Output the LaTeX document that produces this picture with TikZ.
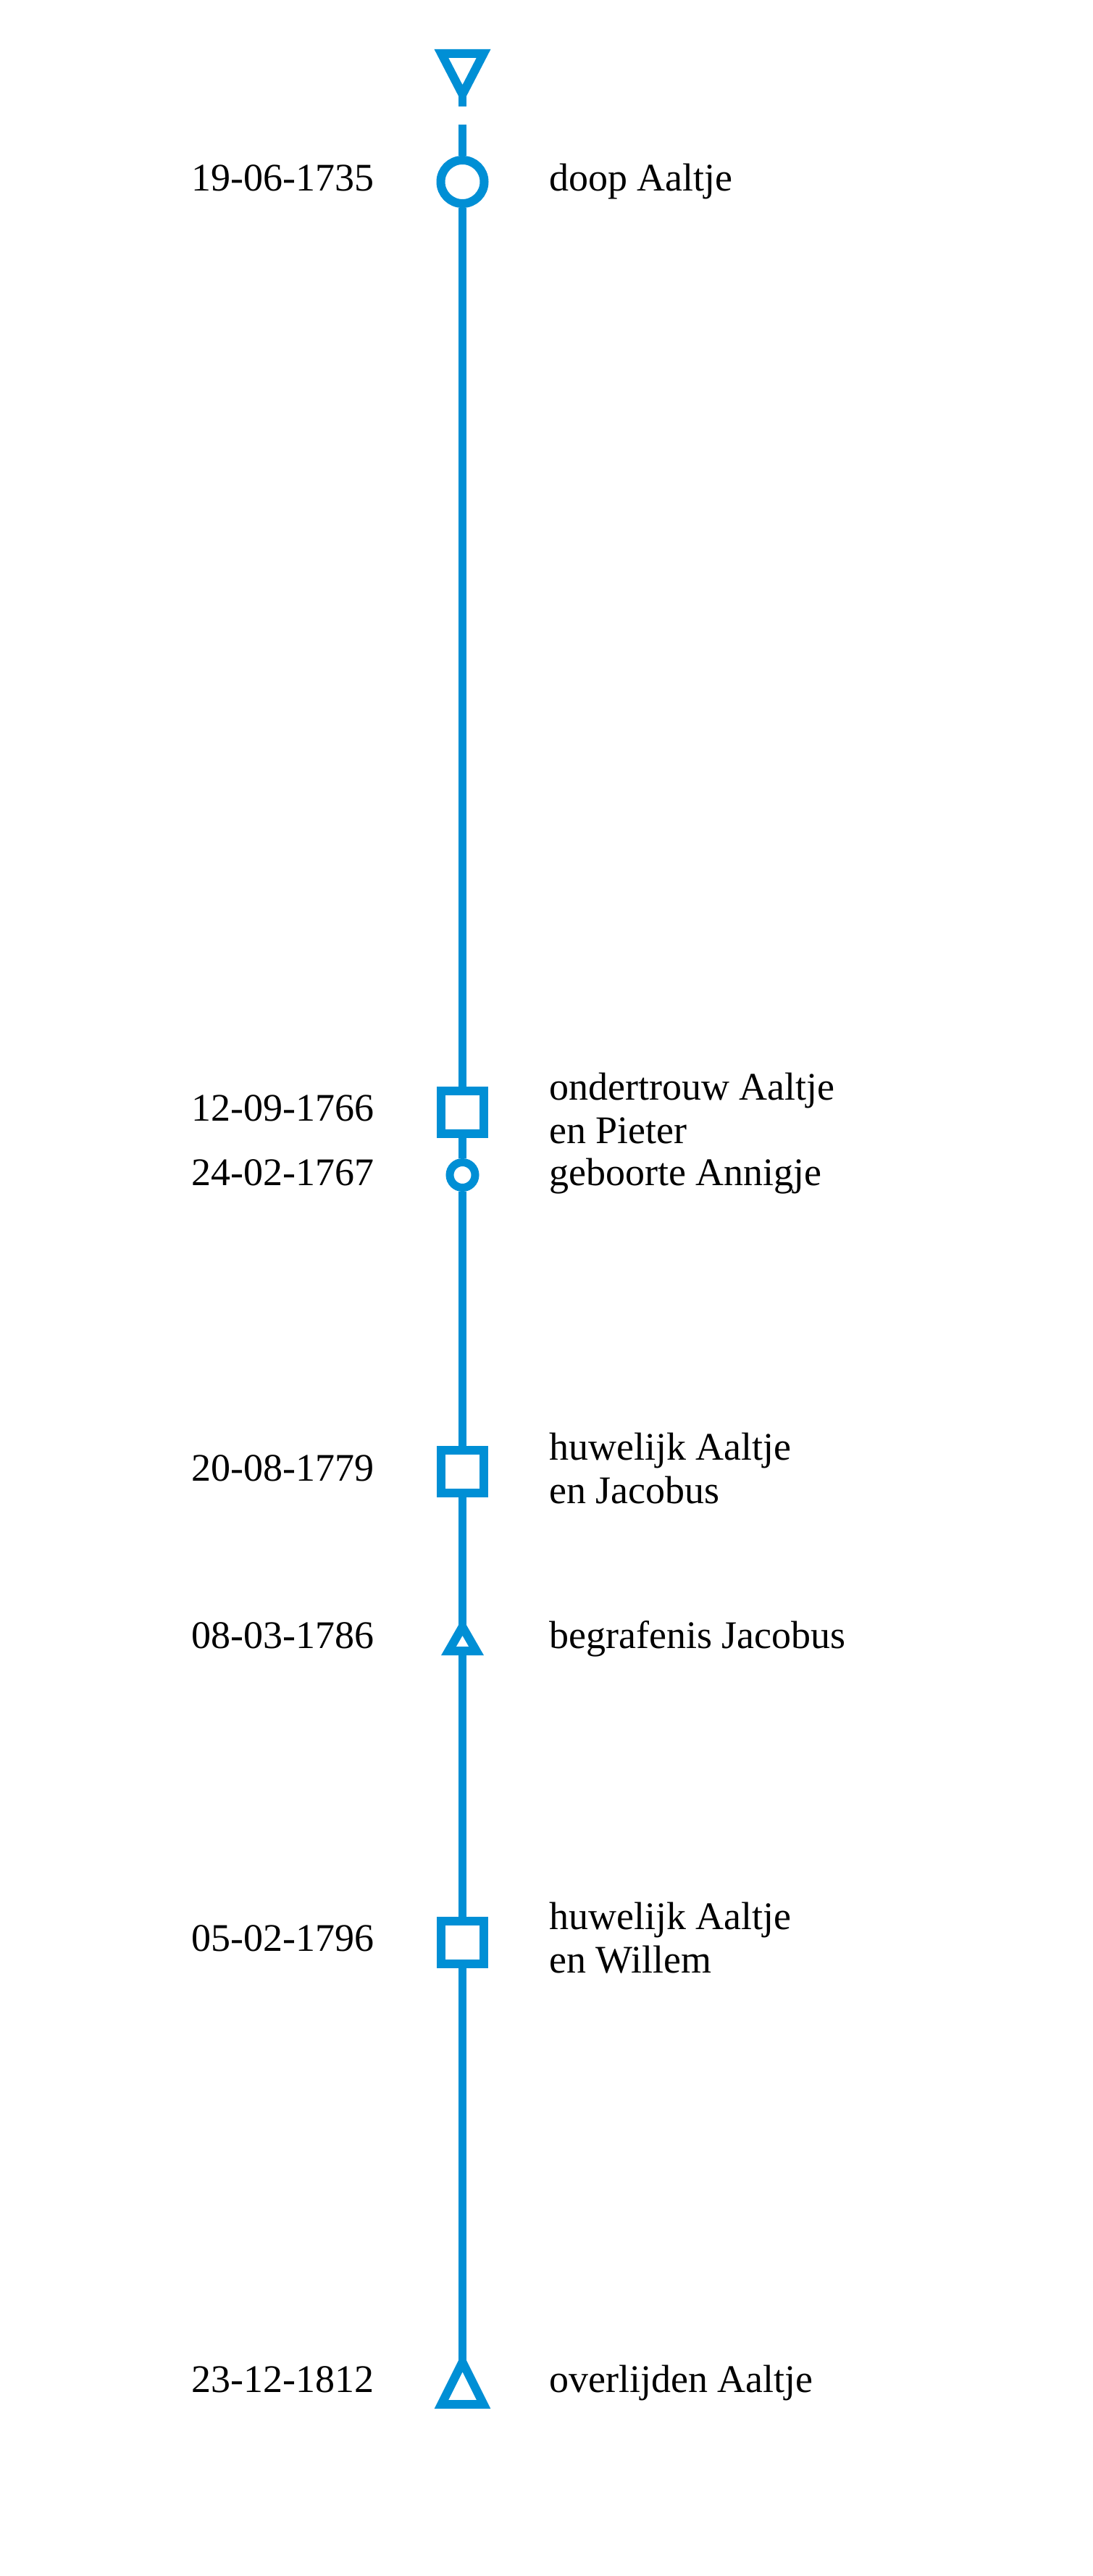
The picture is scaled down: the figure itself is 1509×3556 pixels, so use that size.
\documentclass[tikz,border=0pt]{standalone}
\usepackage{fontspec}
\setmainfont{Liberation Serif}
\definecolor{tlblue}{HTML}{008FD5}
\begin{document}
\begin{tikzpicture}[x=1pt,y=-1pt,
  tl/.style={line width=11.5pt, draw=tlblue},
  bigcirc/.style={circle, draw=tlblue, line width=12pt, minimum size=60pt, inner sep=0pt},
  smallcirc/.style={circle, draw=tlblue, line width=11pt, minimum size=35pt, inner sep=0pt},
  sqbox/.style={rectangle, draw=tlblue, line width=12pt, minimum size=59pt, inner sep=0pt},
  tribox/.style={rectangle, draw=none, inner sep=0pt},
  tristroke/.style={draw=tlblue, line width=12pt, line join=miter},
  datelbl/.style={anchor=base east, inner sep=0pt, font=\fontsize{54}{60}\selectfont},
  evlbl/.style={anchor=base west, inner sep=0pt, align=left, font=\fontsize{54}{60}\selectfont},
]
\useasboundingbox[fill=white] (0,0) rectangle (1509,3556);

% markers
\node[tribox, minimum width=58pt, minimum height=56pt] (t1) at (638.5,102) {};
\draw[tristroke] (t1.north west) -- (t1.north east) -- (t1.south) -- cycle;
\coordinate (s1) at (638.5,147);
\coordinate (g1) at (638.5,172);
\node[bigcirc] (c1) at (638.5,251) {};
\node[sqbox] (q1) at (638.5,1535) {};
\node[smallcirc] (c2) at (638.5,1622) {};
\node[sqbox] (q2) at (638.5,2031) {};
\node[tribox, minimum width=38pt, minimum height=33pt] (t3) at (638.5,2262.5) {};
\draw[tristroke] (t3.south west) -- (t3.south east) -- (t3.north) -- cycle;
\node[sqbox] (q3) at (638.5,2681) {};
\node[tribox, minimum width=58pt, minimum height=58pt] (t2) at (638.5,3290) {};
\draw[tristroke] (t2.south west) -- (t2.south east) -- (t2.north) -- cycle;

% connectors
\draw[tl] (t1.south) -- (s1);
\draw[tl] (g1) -- (c1);
\draw[tl] (c1) -- (q1);
\draw[tl] (q1) -- (c2);
\draw[tl] (c2) -- (q2);
\draw[tl] (q2) -- (t3.north);
\draw[tl] (t3.south) -- (q3);
\draw[tl] (q3) -- (t2.north);

% dates
\node[datelbl] (d1) at (517,263.5) {19-06-1735};
\node[datelbl] (d2) at (517,1547.5) {12-09-1766};
\node[datelbl] (d3) at (517,1636) {24-02-1767};
\node[datelbl] (d4) at (517,2044) {20-08-1779};
\node[datelbl] (d5) at (517,2275) {08-03-1786};
\node[datelbl] (d6) at (517,2693) {05-02-1796};
\node[datelbl] (d7) at (517,3302) {23-12-1812};

% events (base anchor of a two-line node = baseline of its last line)
\node[evlbl] (e1) at (758,263.5) {doop Aaltje};
\node[evlbl] (e2) at (758,1578) {ondertrouw Aaltje\\en Pieter};
\node[evlbl] (e3) at (758,1636) {geboorte Annigje};
\node[evlbl] (e4) at (758,2075) {huwelijk Aaltje\\en Jacobus};
\node[evlbl] (e5) at (758,2275) {begrafenis Jacobus};
\node[evlbl] (e6) at (758,2723) {huwelijk Aaltje\\en Willem};
\node[evlbl] (e7) at (758,3302) {overlijden Aaltje};
\end{tikzpicture}
\end{document}
